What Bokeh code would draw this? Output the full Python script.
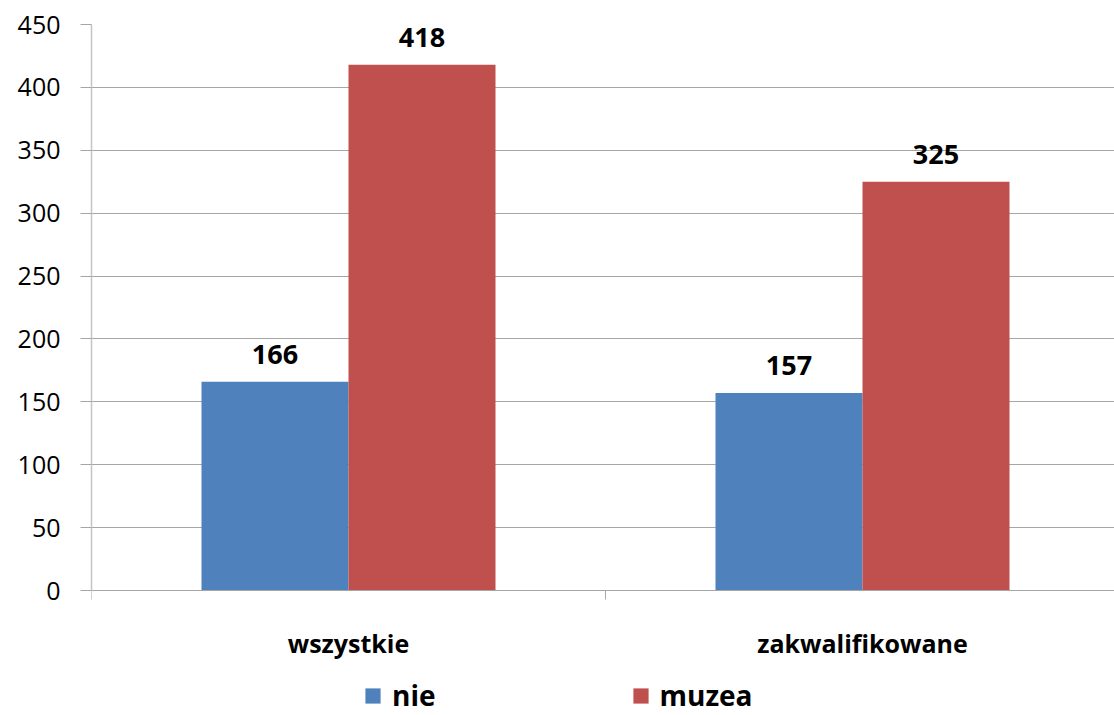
from bokeh.plotting import figure
from bokeh.models import Range1d, FixedTicker, Legend, LegendItem, ColumnDataSource
from bokeh.core.properties import value
from bokeh.embed import file_html
from bokeh.resources import INLINE

categories = ["wszystkie", "zakwalifikowane"]
nie = [166, 157]
muzea = [418, 325]
series_names = ["nie", "muzea"]
y_ticks = [0, 50, 100, 150, 200, 250, 300, 350, 400, 450]
y_max = 450

FONT = "Open Sans"
BLUE = "#4F81BD"
RED = "#C0504D"
bar_w = 0.286

# layout (pixels): plot top at 24, zero line at 590, frame reaches page bottom (715)
PX_TOP, PX_ZERO, PX_BOTTOM = 24, 590, 715
y_min = -(PX_BOTTOM - PX_ZERO) * y_max / (PX_ZERO - PX_TOP)

centers = [i + 0.5 for i in range(len(categories))]
x_nie = [c - bar_w / 2 for c in centers]
x_muz = [c + bar_w / 2 for c in centers]

p = figure(frame_width=1023, frame_height=PX_BOTTOM - PX_TOP, output_backend="svg", toolbar_location=None,
           x_range=Range1d(0, 1023 / 514), y_range=Range1d(y_min, y_max),
           min_border_left=91, min_border_right=0, min_border_top=PX_TOP, min_border_bottom=0)
p.outline_line_color = None
p.background_fill_color = "white"
p.border_fill_color = "white"

src_nie = ColumnDataSource(dict(x=x_nie, top=nie, lab=[str(v) for v in nie]))
src_muz = ColumnDataSource(dict(x=x_muz, top=muzea, lab=[str(v) for v in muzea]))
r1 = p.vbar(x="x", top="top", bottom=0, width=bar_w, source=src_nie, fill_color=BLUE, line_color=None)
r2 = p.vbar(x="x", top="top", bottom=0, width=bar_w, source=src_muz, fill_color=RED, line_color=None)

for src in (src_nie, src_muz):
    p.text(x="x", y="top", text="lab", source=src, text_align="center", text_baseline="bottom",
           y_offset=-18, text_font=value(FONT), text_font_style="bold", text_font_size="27px",
           text_color="black")

# y axis
p.yaxis.ticker = FixedTicker(ticks=y_ticks)
p.yaxis.bounds = (0, y_max)
p.yaxis.major_label_text_font = FONT
p.yaxis.major_label_text_font_size = "25px"
p.yaxis.major_label_text_color = "black"
p.yaxis.major_label_standoff = 20
p.yaxis.major_tick_out = 11
p.yaxis.major_tick_in = 0
p.yaxis.minor_tick_line_color = None
p.yaxis.major_tick_line_color = "#A6A6A6"
p.yaxis.axis_line_color = "#C4C4C4"
p.yaxis.axis_line_width = 1.5

# x axis at zero
p.xaxis.fixed_location = 0
p.xaxis.ticker = FixedTicker(ticks=centers, minor_ticks=[float(i) for i in range(len(categories) + 1)])
p.xaxis.major_label_overrides = {c: n for c, n in zip(centers, categories)}
p.xaxis.major_tick_out = 0
p.xaxis.major_tick_in = 0
p.xaxis.minor_tick_out = 9
p.xaxis.minor_tick_in = 0
p.xaxis.minor_tick_line_color = "#A6A6A6"
p.xaxis.axis_line_color = "#A6A6A6"
p.xaxis.major_label_text_font = FONT
p.xaxis.major_label_text_font_style = "bold"
p.xaxis.major_label_text_font_size = "25px"
p.xaxis.major_label_text_color = "black"
p.xaxis.major_label_standoff = 26

p.xgrid.grid_line_color = None
p.ygrid.ticker = FixedTicker(ticks=y_ticks)
p.ygrid.grid_line_color = "#A6A6A6"

legend = Legend(items=[LegendItem(label=series_names[0], renderers=[r1]),
                       LegendItem(label=series_names[1], renderers=[r2])],
                orientation="horizontal", location=(272, 1),
                padding=0, margin=0, border_line_color=None, background_fill_alpha=0,
                glyph_width=19, glyph_height=19, label_standoff=10, spacing=195,
                label_text_font=FONT, label_text_font_style="bold", label_text_font_size="28px",
                label_text_color="black")
p.add_layout(legend, "center")

open("out.html", "w").write(file_html(p, INLINE))
